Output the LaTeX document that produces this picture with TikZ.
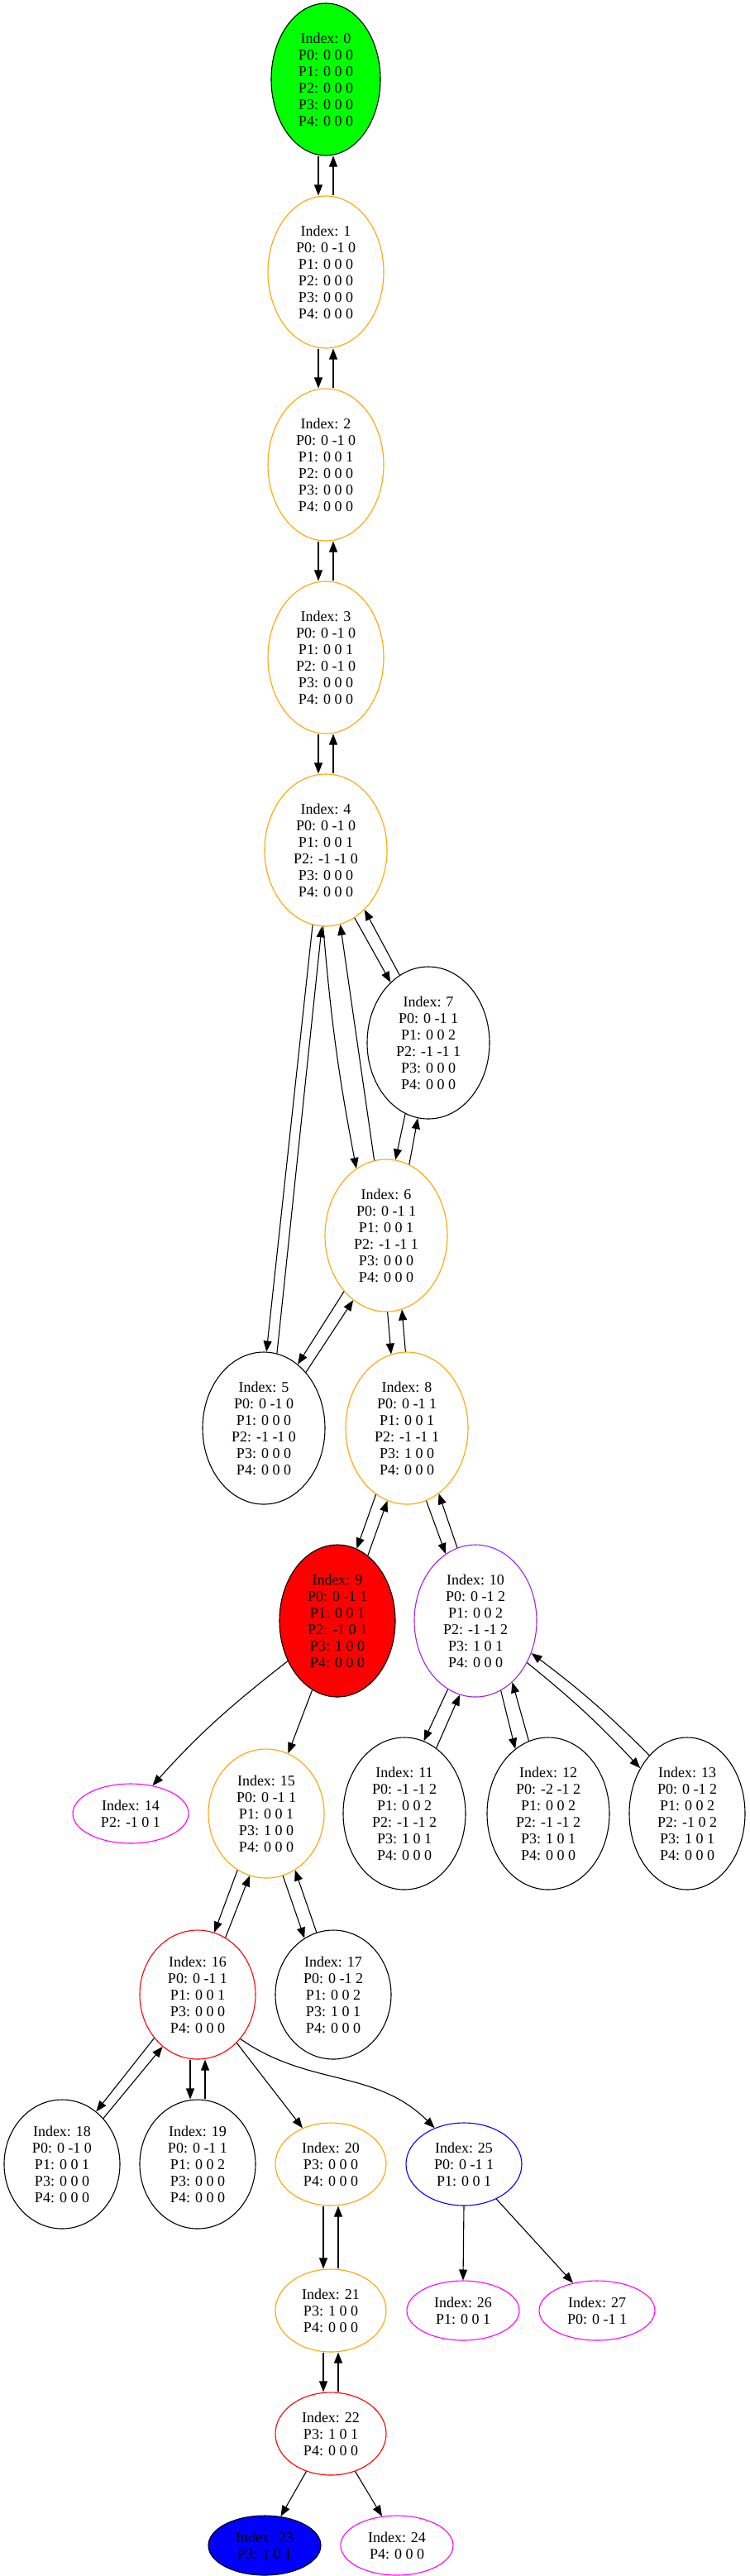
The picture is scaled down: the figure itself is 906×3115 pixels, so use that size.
\documentclass[tikz,border=0pt]{standalone}
\usepackage{fontspec}
\setmainfont{Liberation Serif}
\usetikzlibrary{arrows.meta,shapes.geometric}
\definecolor{gvorange}{RGB}{255,165,0}
\definecolor{gvpurple}{RGB}{160,32,240}
\definecolor{gvmagenta}{RGB}{255,0,255}
\definecolor{gvgreen}{RGB}{0,255,0}
\definecolor{gvred}{RGB}{255,0,0}
\definecolor{gvblue}{RGB}{0,0,255}
\tikzset{
  st/.style={ellipse, inner sep=0pt, align=center, line width=1.1pt,
    font=\fontsize{18}{20}\selectfont},
  six/.style={minimum height=184pt},
  five/.style={minimum height=156pt},
  three/.style={minimum height=100pt},
  two/.style={minimum height=72pt},
  arr/.style={-{Triangle[length=13pt,width=10pt]}, line width=1.1pt, black}
}
\begin{document}
\begin{tikzpicture}[x=1pt,y=1pt]
\path[use as bounding box] (0,0) rectangle (906,-3115);
% rank 0-4
\node[st,six,draw=black,fill=gvgreen,minimum width=132pt] (n0) at (394,-96) {Index: 0\\P0: 0 0 0\\P1: 0 0 0\\P2: 0 0 0\\P3: 0 0 0\\P4: 0 0 0};
\node[st,six,draw=gvorange,minimum width=140pt] (n1) at (394,-329) {Index: 1\\P0: 0 -1 0\\P1: 0 0 0\\P2: 0 0 0\\P3: 0 0 0\\P4: 0 0 0};
\node[st,six,draw=gvorange,minimum width=140pt] (n2) at (394,-562) {Index: 2\\P0: 0 -1 0\\P1: 0 0 1\\P2: 0 0 0\\P3: 0 0 0\\P4: 0 0 0};
\node[st,six,draw=gvorange,minimum width=140pt] (n3) at (394,-795) {Index: 3\\P0: 0 -1 0\\P1: 0 0 1\\P2: 0 -1 0\\P3: 0 0 0\\P4: 0 0 0};
\node[st,six,draw=gvorange,minimum width=148pt] (n4) at (394,-1028) {Index: 4\\P0: 0 -1 0\\P1: 0 0 1\\P2: -1 -1 0\\P3: 0 0 0\\P4: 0 0 0};
\node[st,six,draw=black,minimum width=148pt] (n7) at (518,-1261) {Index: 7\\P0: 0 -1 1\\P1: 0 0 2\\P2: -1 -1 1\\P3: 0 0 0\\P4: 0 0 0};
\node[st,six,draw=gvorange,minimum width=148pt] (n6) at (467,-1494) {Index: 6\\P0: 0 -1 1\\P1: 0 0 1\\P2: -1 -1 1\\P3: 0 0 0\\P4: 0 0 0};
\node[st,six,draw=black,minimum width=148pt] (n5) at (319,-1727) {Index: 5\\P0: 0 -1 0\\P1: 0 0 0\\P2: -1 -1 0\\P3: 0 0 0\\P4: 0 0 0};
\node[st,six,draw=gvorange,minimum width=148pt] (n8) at (492,-1727) {Index: 8\\P0: 0 -1 1\\P1: 0 0 1\\P2: -1 -1 1\\P3: 1 0 0\\P4: 0 0 0};
\node[st,six,draw=black,fill=gvred,minimum width=140pt] (n9) at (408,-1960) {Index: 9\\P0: 0 -1 1\\P1: 0 0 1\\P2: -1 0 1\\P3: 1 0 0\\P4: 0 0 0};
\node[st,six,draw=gvpurple,minimum width=148pt] (n10) at (575,-1960) {Index: 10\\P0: 0 -1 2\\P1: 0 0 2\\P2: -1 -1 2\\P3: 1 0 1\\P4: 0 0 0};
\node[st,six,draw=black,minimum width=148pt] (n11) at (489,-2193) {Index: 11\\P0: -1 -1 2\\P1: 0 0 2\\P2: -1 -1 2\\P3: 1 0 1\\P4: 0 0 0};
\node[st,six,draw=black,minimum width=148pt] (n12) at (663,-2193) {Index: 12\\P0: -2 -1 2\\P1: 0 0 2\\P2: -1 -1 2\\P3: 1 0 1\\P4: 0 0 0};
\node[st,six,draw=black,minimum width=140pt] (n13) at (831,-2193) {Index: 13\\P0: 0 -1 2\\P1: 0 0 2\\P2: -1 0 2\\P3: 1 0 1\\P4: 0 0 0};
\node[st,two,draw=gvmagenta,minimum width=140pt] (n14) at (158,-2193) {Index: 14\\P2: -1 0 1};
\node[st,five,draw=gvorange,minimum width=140pt] (n15) at (322,-2193) {Index: 15\\P0: 0 -1 1\\P1: 0 0 1\\P3: 1 0 0\\P4: 0 0 0};
\node[st,five,draw=gvred,minimum width=140pt] (n16) at (239,-2412) {Index: 16\\P0: 0 -1 1\\P1: 0 0 1\\P3: 0 0 0\\P4: 0 0 0};
\node[st,five,draw=black,minimum width=140pt] (n17) at (403,-2412) {Index: 17\\P0: 0 -1 2\\P1: 0 0 2\\P3: 1 0 1\\P4: 0 0 0};
\node[st,five,draw=black,minimum width=140pt] (n18) at (75,-2617) {Index: 18\\P0: 0 -1 0\\P1: 0 0 1\\P3: 0 0 0\\P4: 0 0 0};
\node[st,five,draw=black,minimum width=140pt] (n19) at (239,-2617) {Index: 19\\P0: 0 -1 1\\P1: 0 0 2\\P3: 0 0 0\\P4: 0 0 0};
\node[st,three,draw=gvorange,minimum width=134pt] (n20) at (400,-2617) {Index: 20\\P3: 0 0 0\\P4: 0 0 0};
\node[st,three,draw=gvblue,minimum width=140pt] (n25) at (561,-2617) {Index: 25\\P0: 0 -1 1\\P1: 0 0 1};
\node[st,three,draw=gvorange,minimum width=134pt] (n21) at (400,-2794) {Index: 21\\P3: 1 0 0\\P4: 0 0 0};
\node[st,two,draw=gvmagenta,minimum width=136pt] (n26) at (560,-2794) {Index: 26\\P1: 0 0 1};
\node[st,two,draw=gvmagenta,minimum width=140pt] (n27) at (722,-2794) {Index: 27\\P0: 0 -1 1};
\node[st,three,draw=gvred,minimum width=134pt] (n22) at (400,-2943) {Index: 22\\P3: 1 0 1\\P4: 0 0 0};
\node[st,two,draw=black,fill=gvblue,minimum width=136pt] (n23) at (320,-3078) {Index: 23\\P3: 1 0 1};
\node[st,two,draw=gvmagenta,minimum width=136pt] (n24) at (480,-3078) {Index: 24\\P4: 0 0 0};
% edges
\draw[arr] ([xshift=-9pt]n0.south) -- ([xshift=-9pt]n1.north);
\draw[arr] ([xshift=9pt]n1.north) -- ([xshift=9pt]n0.south);
\draw[arr] ([xshift=-9pt]n1.south) -- ([xshift=-9pt]n2.north);
\draw[arr] ([xshift=9pt]n2.north) -- ([xshift=9pt]n1.south);
\draw[arr] ([xshift=-9pt]n2.south) -- ([xshift=-9pt]n3.north);
\draw[arr] ([xshift=9pt]n3.north) -- ([xshift=9pt]n2.south);
\draw[arr] ([xshift=-9pt]n3.south) -- ([xshift=-9pt]n4.north);
\draw[arr] ([xshift=9pt]n4.north) -- ([xshift=9pt]n3.south);
\draw[arr] (n4.-67) -- (n7.122);
\draw[arr] (n7.113) -- (n4.-57);
\draw[arr] (n4.-100) -- (n5.88);
\draw[arr] (n5.80) -- (n4.-93);
\draw[arr] (n4.-92) to[bend right=3] (n6.114);
\draw[arr] (n6.99) -- (n4.-79);
\draw[arr] (n7.-108) -- (n6.83);
\draw[arr] (n6.72) -- (n7.-98);
\draw[arr] (n6.-127) -- (n5.62);
\draw[arr] (n5.53) -- (n6.-117);
\draw[arr] (n6.-89) -- (n8.102);
\draw[arr] (n8.91) -- (n6.-78);
\draw[arr] (n8.-115) -- (n9.75);
\draw[arr] (n9.65) -- (n8.-105);
\draw[arr] (n8.-75) -- (n10.114);
\draw[arr] (n10.104) -- (n8.-64);
\draw[arr] (n10.-112) -- (n11.75);
\draw[arr] (n11.64) -- (n10.-102);
\draw[arr] (n10.-70) -- (n12.117);
\draw[arr] (n12.105) -- (n10.-59);
\draw[arr] (n10.-39) to[bend left=4] (n13.136);
\draw[arr] (n13.123) to[bend right=4] (n10.-30);
\draw[arr] (n9.-141) to[out=218, in=48] (n14.52);
\draw[arr] (n9.-110) -- (n15.70);
\draw[arr] (n15.-117) -- (n16.75);
\draw[arr] (n16.64) -- (n15.-105);
\draw[arr] (n15.-75) -- (n17.117);
\draw[arr] (n17.105) -- (n15.-63);
\draw[arr] (n16.-135) -- (n18.57);
\draw[arr] (n18.48) -- (n16.-124);
\draw[arr] ([xshift=-9pt]n16.south) -- ([xshift=-9pt]n19.north);
\draw[arr] ([xshift=9pt]n19.north) -- ([xshift=9pt]n16.south);
\draw[arr] (n16.-51) -- (n20.128);
\draw[arr] (n16.-46) to[out=-35, in=135] (n25.129);
\draw[arr] ([xshift=-9pt]n20.south) -- ([xshift=-9pt]n21.north);
\draw[arr] ([xshift=9pt]n21.north) -- ([xshift=9pt]n20.south);
\draw[arr] ([xshift=-9pt]n21.south) -- ([xshift=-9pt]n22.north);
\draw[arr] ([xshift=9pt]n22.north) -- ([xshift=9pt]n21.south);
\draw[arr] (n22.-123) -- (n23.61);
\draw[arr] (n22.-57) -- (n24.117);
\draw[arr] (n25.south) -- (n26.north);
\draw[arr] (n25.-47) -- (n27.131);
\end{tikzpicture}
\end{document}
